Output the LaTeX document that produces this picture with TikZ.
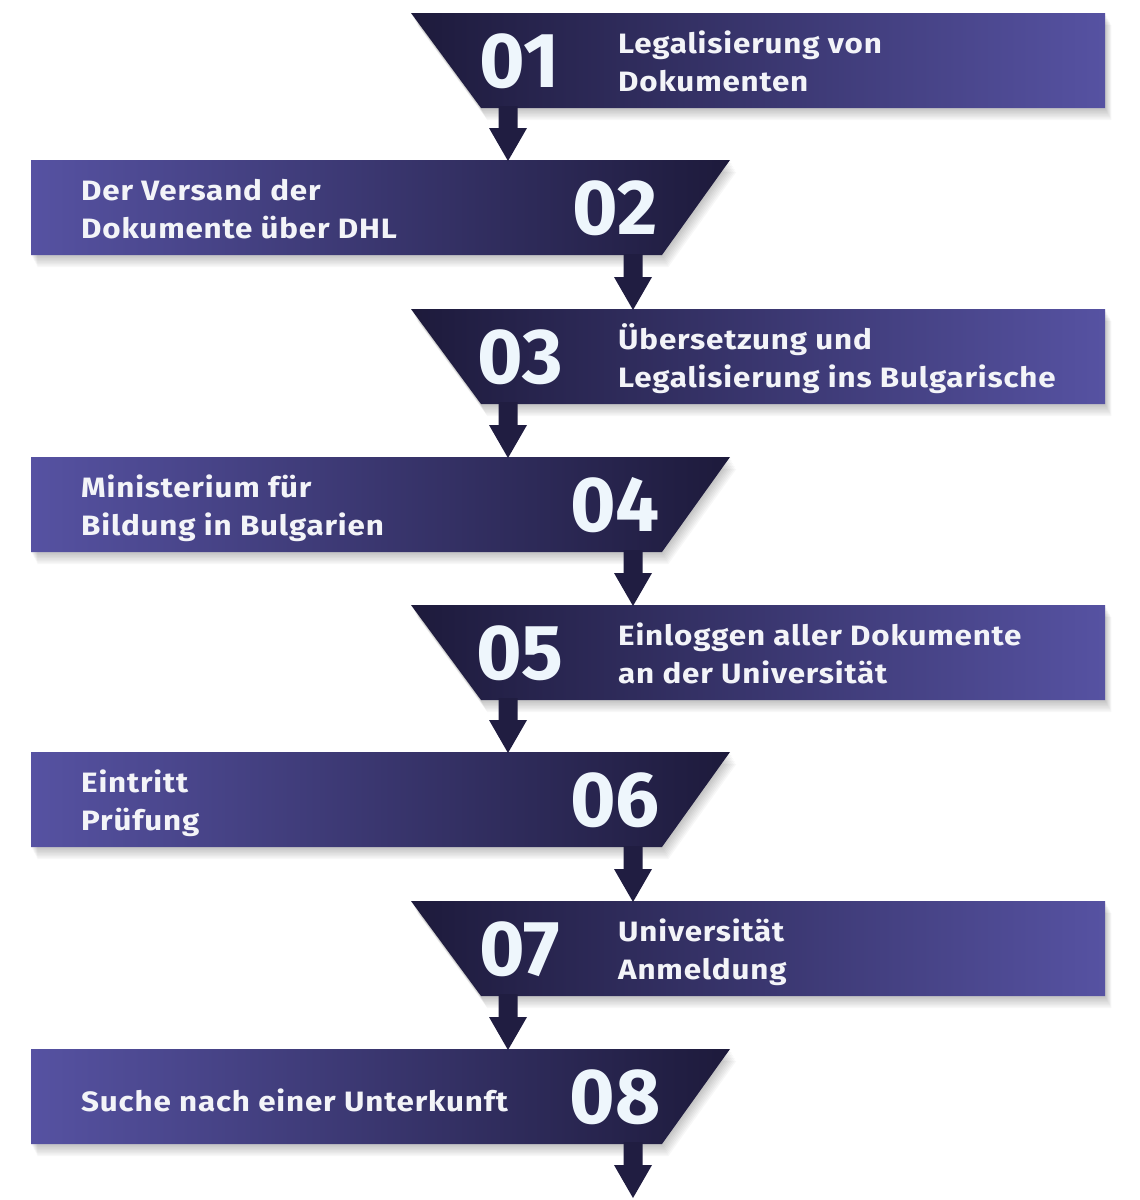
\documentclass[tikz,border=0pt]{standalone}
\usepackage{fontspec}
\setmainfont{Fira Sans}[FakeStretch=1.12,LetterSpace=3]
\newfontfamily\numfont{Fira Sans}[FakeStretch=1.0]
\usetikzlibrary{calc}
\definecolor{dk}{HTML}{1D1A3B}
\definecolor{lt}{HTML}{5652A2}
\definecolor{arr}{HTML}{201D41}
\definecolor{txt}{HTML}{F3F4F8}
\definecolor{numc}{HTML}{EEF6FC}
\tikzset{
  lbl/.style={text=txt, font=\bfseries\fontsize{28}{38}\selectfont, align=left, inner sep=0pt, anchor=base west},
  num/.style={text=numc, font=\numfont\bfseries\fontsize{78}{78}\selectfont, inner sep=0pt, anchor=base},
  shd/.style={fill=black, opacity=0.03},
}
% right-pointing banner (slant on the left): #1 top y
\newcommand\rbanner[1]{%
  \foreach \s in {1,...,8}{\fill[shd] (411+\s*0.8,#1+\s*1.5) -- (1105+\s*0.8,#1+\s*1.5) -- (1105+\s*0.8,#1+95+\s*1.5) -- (481+\s*0.8,#1+95+\s*1.5) -- cycle;}
  \shade[left color=dk, right color=lt] (411,#1) -- (1105,#1) -- (1105,#1+95) -- (481,#1+95) -- cycle;}
% left banner (slant on the right)
\newcommand\lbanner[1]{%
  \foreach \s in {1,...,8}{\fill[shd] (31+\s*0.8,#1+\s*1.5) -- (730+\s*0.8,#1+\s*1.5) -- (662+\s*0.8,#1+95+\s*1.5) -- (31+\s*0.8,#1+95+\s*1.5) -- cycle;}
  \shade[left color=lt, right color=dk] (31,#1) -- (730,#1) -- (662,#1+95) -- (31,#1+95) -- cycle;}
\newcommand\fatarrow[2]{%
  \fill[arr] ($(#1)+(-9.5,0)$) -- ($(#1)+(9.5,0)$) -- ($(#2)+(9.5,-33)$) -- ($(#2)+(19,-33)$) -- (#2) -- ($(#2)+(-19,-33)$) -- ($(#2)+(-9.5,-33)$) -- cycle;}
\begin{document}
\begin{tikzpicture}[x=1pt,y=-1pt]
\useasboundingbox (0,0) rectangle (1140,1200);
% banners
\rbanner{13}
\lbanner{160}
\rbanner{309}
\lbanner{457}
\rbanner{605}
\lbanner{752}
\rbanner{901}
\lbanner{1049}
% arrow anchor coordinates
\coordinate (s1) at (508,106);  \coordinate (e1) at (508,161);
\coordinate (s2) at (633,254);  \coordinate (e2) at (633,310);
\coordinate (s3) at (508,402);  \coordinate (e3) at (508,458);
\coordinate (s4) at (633,550);  \coordinate (e4) at (633,606);
\coordinate (s5) at (508,698);  \coordinate (e5) at (508,753);
\coordinate (s6) at (633,846);  \coordinate (e6) at (633,902);
\coordinate (s7) at (508,994);  \coordinate (e7) at (508,1050);
\coordinate (s8) at (633,1142); \coordinate (e8) at (633,1198);
\fatarrow{s1}{e1}
\fatarrow{s2}{e2}
\fatarrow{s3}{e3}
\fatarrow{s4}{e4}
\fatarrow{s5}{e5}
\fatarrow{s6}{e6}
\fatarrow{s7}{e7}
\fatarrow{s8}{e8}
% numbers
\node[num] (n1) at (520,60.5+27) {01};
\node[num] (n2) at (615,207.5+27) {02};
\node[num] (n3) at (520,356.5+27) {03};
\node[num] (n4) at (615,504.5+27) {04};
\node[num] (n5) at (520,652.5+27) {05};
\node[num] (n6) at (615,799.5+27) {06};
\node[num] (n7) at (520,948.5+27) {07};
\node[num] (n8) at (615,1096.5+27) {08};
% labels (base anchor = baseline of the last line)
\node[lbl] (t1) at (618,60.5+30.5) {Legalisierung von\\Dokumenten};
\node[lbl] (t2) at (81,207.5+31) {Der Versand der\\Dokumente über DHL};
\node[lbl] (t3) at (618,356.5+30.5) {Übersetzung und\\Legalisierung ins Bulgarische};
\node[lbl] (t4) at (81,504.5+31) {Ministerium für\\Bildung in Bulgarien};
\node[lbl] (t5) at (618,652.5+30.5) {Einloggen aller Dokumente\\an der Universität};
\node[lbl] (t6) at (81,799.5+31) {Eintritt\\Prüfung};
\node[lbl] (t7) at (618,948.5+30.5) {Universität\\Anmeldung};
\node[lbl] (t8) at (81,1096.5+14.5) {Suche nach einer Unterkunft};
\end{tikzpicture}
\end{document}
